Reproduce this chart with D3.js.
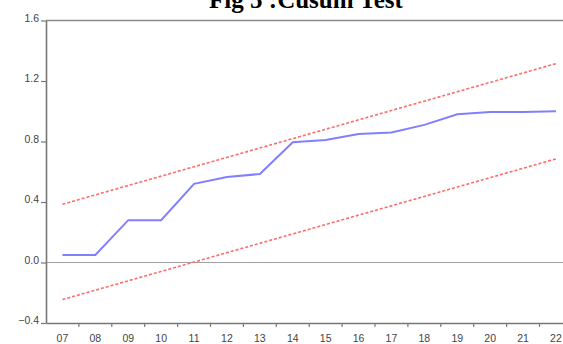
<!DOCTYPE html>
<html>
<head>
<meta charset="utf-8">
<script src="https://cdn.jsdelivr.net/npm/d3@7"></script>
<style>
  body { margin:0; background:#fff; }
  svg { display:block; }
</style>
</head>
<body>
<script>
let w=563,
  h=344;

const years=["07","08","09","10","11","12","13","14","15","16","17","18","19","20","21","22"];
const cusum=[0.05,0.05,0.28,0.28,0.52,0.565,0.585,0.795,0.81,0.85,0.86,0.91,0.98,0.995,0.995,1.0];
// 5% significance bands, straight lines from first to last year
const bandYears=["07","22"];
const upper=[0.385,1.315];
const lower=[-0.245,0.685];
const yTicks=[-0.4,0.0,0.4,0.8,1.2,1.6];

const padL=46, padT=20.5, padB=323;
const step=32.9;

let xScale=d3.scaleBand()
  .domain(years)
  .range([padL,padL+step*years.length])
  .padding(0);

let yScale=d3.scaleLinear()
  .domain([-0.4,1.6])
  .range([padB,padT]);

const cx=function(d){ return xScale(d)+xScale.bandwidth()/2; };

const svg=d3.select("body")
  .append("svg")
  .attr("width",w)
  .attr("height",h);

// title, cut by the top edge as in the source
svg.append("text")
  .attr("x",306)
  .attr("y",7.5)
  .attr("text-anchor","middle")
  .style("font-family","'Liberation Serif','Times New Roman',serif")
  .style("font-weight","bold")
  .style("font-size","25px")
  .text("Fig 5 :Cusum Test");

// top frame
svg.append("line")
  .attr("x1",padL).attr("x2",w)
  .attr("y1",yScale(1.6)).attr("y2",yScale(1.6))
  .attr("stroke","#8a8a8a").attr("stroke-width",1.6);

// zero line
svg.append("line")
  .attr("x1",padL).attr("x2",w)
  .attr("y1",yScale(0)).attr("y2",yScale(0))
  .attr("stroke","#a0a0a0").attr("stroke-width",1.2);

// y axis
let yAxis=svg.append("g")
  .attr("transform","translate("+padL+",0)")
  .call(d3.axisLeft(yScale).tickValues(yTicks).tickFormat(d3.format(".1f")).tickSize(5).tickSizeOuter(0));

// x axis, ticks on year boundaries
let xAxis=svg.append("g")
  .attr("transform","translate(0,"+padB+")")
  .call(d3.axisBottom(xScale).tickSize(0).tickSizeOuter(0));

xAxis.selectAll(".tick").remove();
xAxis.selectAll(".bnd")
  .data(years.slice(1))
  .enter()
  .append("line")
  .attr("x1",function(d){ return xScale(d); })
  .attr("x2",function(d){ return xScale(d); })
  .attr("y1",0).attr("y2",4)
  .attr("stroke","#777").attr("stroke-width",1.2);

xAxis.selectAll(".lbl")
  .data(years)
  .enter()
  .append("text")
  .attr("x",cx)
  .attr("y",19)
  .attr("text-anchor","middle")
  .attr("fill","#444")
  .style("font-family","'Liberation Sans',Arial,sans-serif")
  .style("font-size","10.5px")
  .text(function(d){ return d; });

svg.selectAll(".domain")
  .attr("stroke","#777")
  .attr("stroke-width",1.6);

yAxis.selectAll(".tick line").attr("stroke","#777").attr("stroke-width",1.2);
yAxis.selectAll(".tick text")
  .attr("x",-7)
  .attr("dy","0.05em")
  .attr("fill","#444")
  .style("font-family","'Liberation Sans',Arial,sans-serif")
  .style("font-size","10.5px");

const line=d3.line()
  .x(function(d){ return cx(d[0]); })
  .y(function(d){ return yScale(d[1]); });

[upper,lower].forEach(function(b){
  svg.append("path")
    .datum(bandYears.map(function(y,i){ return [y,b[i]]; }))
    .attr("fill","none")
    .attr("stroke","#ff6a6a")
    .attr("stroke-width",1.6)
    .attr("stroke-dasharray","3,2")
    .attr("d",line);
});

svg.append("path")
  .datum(years.map(function(y,i){ return [y,cusum[i]]; }))
  .attr("fill","none")
  .attr("stroke","#8080ff")
  .attr("stroke-width",2)
  .attr("d",line);
</script>
</body>
</html>
